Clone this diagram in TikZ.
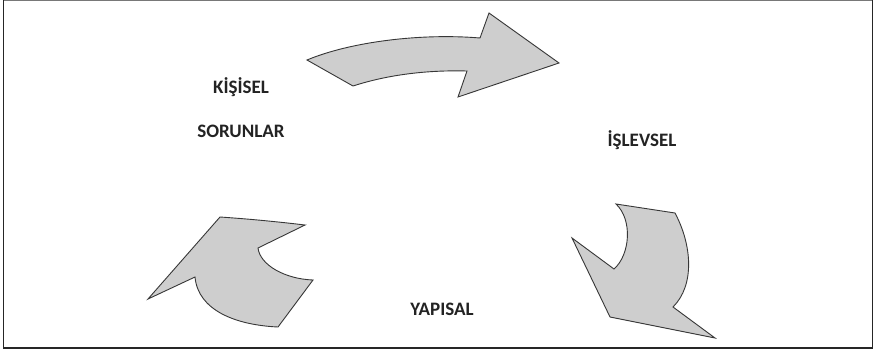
\documentclass[tikz,border=0pt]{standalone}
\usepackage{fontspec}
\setmainfont{Carlito}
\begin{document}
\begin{tikzpicture}[x=1pt,y=-1pt,
  blockarrow/.style={fill=shapegray,draw=edgegray,line width=0.9pt,line join=miter},
  label/.style={font=\fontsize{19}{22}\selectfont\bfseries,text=labelgray,inner sep=0pt,anchor=base}]
\definecolor{shapegray}{RGB}{206,206,206}
\definecolor{edgegray}{RGB}{55,55,55}
\definecolor{labelgray}{RGB}{35,35,35}
\definecolor{framegray}{RGB}{120,120,120}
\useasboundingbox (0,0) rectangle (874,351);
\fill[white] (0,0) rectangle (874,351);
% frame
\draw[framegray,line width=1.2pt] (3.5,0.6) -- (872.5,0.6);
\draw[black!85,line width=1.8pt] (3.5,0) -- (3.5,348) -- (872.5,348) -- (872.5,0);
% upper curved arrow
\draw[blockarrow] (307,60) .. controls (350,42) and (420,33) .. (480,38) -- (489,13) -- (559,63)
  -- (458,97) -- (467,71) .. controls (430,70) and (390,74) .. (353,86) -- cycle;
% right arrow, pointing down
\draw[blockarrow] (616,204) -- (675,213) .. controls (692,245) and (695,285) .. (673,307)
  -- (715,338) -- (610,317) -- (572,238) -- (614,269) .. controls (630,255) and (633,220) .. (616,204) -- cycle;
% left arrow, pointing up-left
\draw[blockarrow] (220,217) .. controls (250,219) and (280,222) .. (305,225) -- (258,248)
  .. controls (260,265) and (285,279) .. (313,280) -- (278,327)
  .. controls (235,325) and (198,310) .. (195,277) -- (148,299) -- cycle;
% labels
\node[label] (kisisel) at (241,93) {KİŞİSEL};
\node[label] (sorunlar) at (241,137) {SORUNLAR};
\node[label] (islevsel) at (642,146) {İŞLEVSEL};
\node[label] (yapisal) at (442,315) {YAPISAL};
\end{tikzpicture}
\end{document}
